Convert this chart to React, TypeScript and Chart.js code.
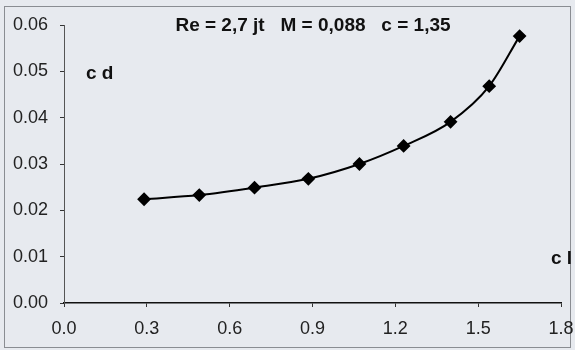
import React, { useEffect, useRef } from "react";
import { Chart, registerables } from "chart.js";

Chart.register(...registerables);

const clValues = [0.29, 0.49, 0.69, 0.885, 1.07, 1.23, 1.4, 1.54, 1.65];
const cdValues = [0.0224, 0.0233, 0.0249, 0.0268, 0.03, 0.0339, 0.0391, 0.0468, 0.0576];
const titleText = "Re = 2,7 jt   M = 0,088   c = 1,35";
const yAxisLabel = "c d";
const xAxisLabel = "c l";

const textPlugin = {
  id: "texts",
  beforeDraw(chart: any) {
    const ctx = chart.ctx;
    ctx.save();
    ctx.fillStyle = "#e7eaef";
    ctx.fillRect(0, 0, chart.width, chart.height);
    ctx.strokeStyle = "#8a8d92";
    ctx.lineWidth = 1;
    ctx.strokeRect(4.5, 6.5, chart.width - 9, chart.height - 9);
    ctx.restore();
  },
  afterDraw(chart: any) {
    const ctx = chart.ctx;
    ctx.save();
    ctx.fillStyle = "#111";
    ctx.font = "bold 19px 'Liberation Sans', Arial, sans-serif";
    ctx.textBaseline = "middle";
    ctx.textAlign = "center";
    ctx.fillText(titleText, 313, 26);
    ctx.textAlign = "left";
    ctx.font = "bold 19px 'Liberation Sans', Arial, sans-serif";
    ctx.fillText(yAxisLabel, 86, 74);
    ctx.textAlign = "right";
    ctx.fillText(xAxisLabel, 572, 259);
    ctx.restore();
  },
};

export default function App() {
  const ref = useRef<HTMLCanvasElement>(null);
  useEffect(() => {
    document.body.style.margin = "0";
    const canvas = ref.current;
    if (!canvas) return;
    const data = clValues.map((x, i) => ({ x, y: cdValues[i] }));
    const chart = new Chart(canvas, {
      type: "scatter",
      data: {
        datasets: [
          {
            data,
            showLine: true,
            borderColor: "#000",
            backgroundColor: "#000",
            borderWidth: 2,
            tension: 0.4,
            cubicInterpolationMode: "monotone",
            pointStyle: "rectRot",
            pointRadius: 5.5,
            pointHoverRadius: 5.5,
          },
        ],
      },
      options: {
        responsive: false,
        animation: false,
        events: [],
        layout: { padding: { top: 25, right: 14, left: 0, bottom: 0 } },
        plugins: {
          legend: { display: false },
          tooltip: { enabled: false },
          title: { display: false },
        },
        scales: {
          x: {
            type: "linear",
            min: 0,
            max: 1.8,
            afterFit: (s: any) => {
              s.height = 47;
              s.paddingLeft = 0;
              s.paddingRight = 0;
            },
            ticks: {
              stepSize: 0.3,
              callback: (v: any) => Number(v).toFixed(1),
              color: "#222",
              font: { size: 18, family: "'Liberation Sans', Arial, sans-serif" },
              padding: 11,
              maxRotation: 0,
            },
            grid: { drawOnChartArea: false, drawTicks: true, tickLength: 4, color: "#333" },
            border: { display: true, color: "#111", width: 1.5 },
          },
          y: {
            type: "linear",
            min: 0,
            max: 0.06,
            afterFit: (s: any) => {
              s.width = 64;
              s.paddingTop = 0;
              s.paddingBottom = 0;
            },
            ticks: {
              stepSize: 0.01,
              callback: (v: any) => Number(v).toFixed(2),
              color: "#222",
              font: { size: 18, family: "'Liberation Sans', Arial, sans-serif" },
              padding: 12,
            },
            grid: { drawOnChartArea: false, drawTicks: true, tickLength: 4, color: "#333" },
            border: { display: true, color: "#555", width: 1 },
          },
        },
      },
      plugins: [textPlugin],
    });
    return () => chart.destroy();
  }, []);
  return (
    <div style={{ width: 575, height: 350 }}>
      <canvas ref={ref} width={575} height={350} style={{ display: "block" }} />
    </div>
  );
}
